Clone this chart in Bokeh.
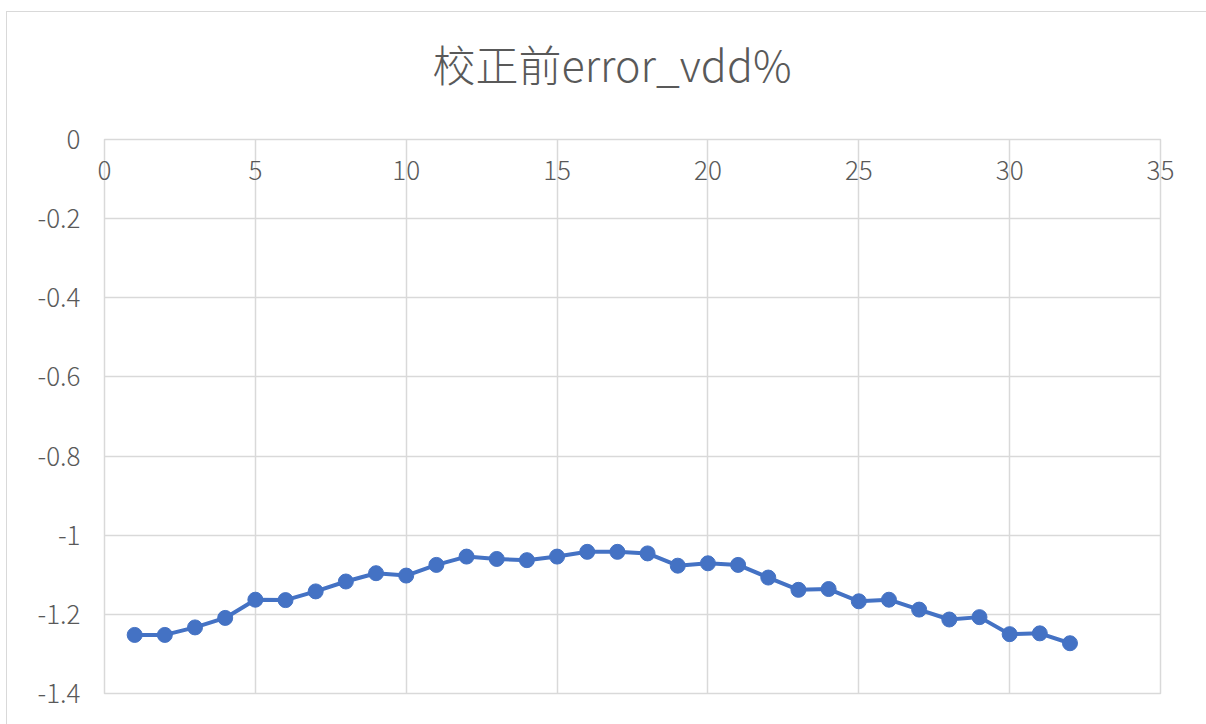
from bokeh.plotting import figure
from bokeh.models import Range1d, FixedTicker, NumeralTickFormatter, ColumnDataSource
from bokeh.embed import file_html
from bokeh.resources import INLINE

# Sample index and measured error (%) before calibration
sample = list(range(1, 33))
error_vdd = [-1.252, -1.252, -1.233, -1.209, -1.163, -1.164, -1.142, -1.117,
             -1.096, -1.102, -1.075, -1.054, -1.060, -1.063, -1.054, -1.042,
             -1.042, -1.046, -1.077, -1.071, -1.075, -1.107, -1.138, -1.136,
             -1.167, -1.163, -1.188, -1.213, -1.207, -1.250, -1.248, -1.273]

x_ticks = [0, 5, 10, 15, 20, 25, 30, 35]
y_ticks = [0, -0.2, -0.4, -0.6, -0.8, -1.0, -1.2, -1.4]

title_text = "校正前error_vdd%"

FONT = "Noto Sans CJK SC Light, Noto Sans CJK SC"
GRAY_TEXT = "#595959"
GRID = "#d9d9d9"
BLUE = "#4472c4"

p = figure(
    frame_width=1056, frame_height=554,
    min_border_left=97, min_border_top=127, min_border_right=47, min_border_bottom=32,
    x_range=Range1d(0, 35), y_range=Range1d(-1.4, 0),
    output_backend="svg", toolbar_location=None, title=title_text,
    x_axis_location="above",
)
p.styles = {
    "margin-left": "6px", "margin-top": "11px",
    "border-left": f"1px solid {GRID}", "border-top": f"1px solid {GRID}",
}
p.outline_line_color = GRID
p.outline_line_width = 1.5
p.background_fill_color = "white"
p.border_fill_color = "white"

# chart title
p.title.align = "left"
p.title.offset = 328
p.title.standoff = 28
p.title.text_font = FONT
p.title.text_font_size = "43px"
p.title.text_font_style = "normal"
p.title.text_color = GRAY_TEXT

# grid
p.xgrid.ticker = FixedTicker(ticks=x_ticks)
p.ygrid.ticker = FixedTicker(ticks=y_ticks)
p.grid.grid_line_color = GRID
p.grid.grid_line_width = 1.5

# horizontal axis on the zero line; its labels hang just underneath it,
# a blank axis label keeps some room between the axis and the title
xax = p.xaxis[0]
xax.ticker = FixedTicker(ticks=x_ticks)
xax.axis_line_color = None
xax.major_tick_line_color = None
xax.minor_tick_line_color = None
xax.major_tick_out = 0
xax.major_tick_in = 0
xax.major_label_standoff = -40
xax.major_label_text_font = FONT
xax.major_label_text_font_size = "26px"
xax.major_label_text_color = GRAY_TEXT
xax.axis_label = " "
xax.axis_label_standoff = 46
xax.axis_label_text_font_size = "1px"

# vertical axis
yax = p.yaxis[0]
yax.ticker = FixedTicker(ticks=y_ticks)
yax.formatter = NumeralTickFormatter(format="0.[0]")
yax.axis_line_color = None
yax.major_tick_line_color = None
yax.minor_tick_line_color = None
yax.major_tick_out = 0
yax.major_tick_in = 0
yax.major_label_standoff = 24
yax.major_label_text_font = FONT
yax.major_label_text_font_size = "26px"
yax.major_label_text_color = GRAY_TEXT

# series
src = ColumnDataSource(dict(x=sample, y=error_vdd))
p.line(x="x", y="y", source=src, line_color=BLUE, line_width=4)
p.scatter(x="x", y="y", source=src, size=15, fill_color=BLUE, line_color=BLUE)

open("out.html", "w").write(file_html(p, INLINE))
